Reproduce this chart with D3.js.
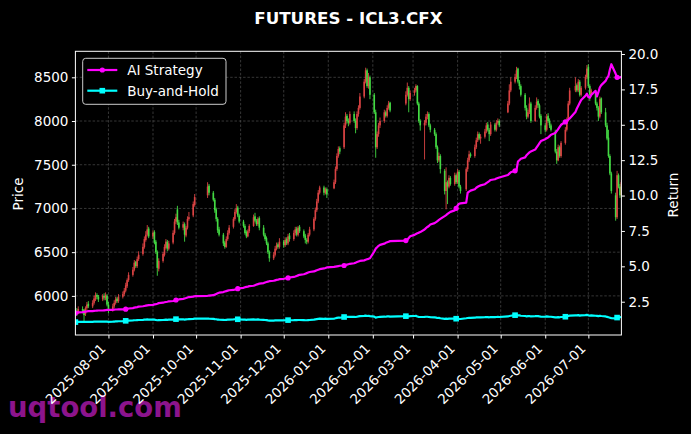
<!DOCTYPE html>
<html>
<head>
<meta charset="utf-8">
<script src="https://cdn.jsdelivr.net/npm/d3@7"></script>
<style>
  html, body { margin: 0; padding: 0; background: #000; }
  svg { display: block; }
  text { font-family: "DejaVu Sans", sans-serif; }
</style>
</head>
<body>
<div id="chart"></div>
<script>
'use strict';

// ---- data ----

var firstDay = "2025-07-09";
var lastDay  = "2026-07-24";

// exchange holidays that fall on weekdays
var holidays = [
  "2025-10-01", "2025-10-02", "2025-10-03", "2025-10-06", "2025-10-07", "2025-10-08",
  "2026-01-01", "2026-01-02",
  "2026-02-16", "2026-02-17", "2026-02-18", "2026-02-19", "2026-02-20", "2026-02-23",
  "2026-04-06",
  "2026-05-01", "2026-05-04", "2026-05-05",
  "2026-06-19"
];

var tickMonths = [
  "2025-08-01", "2025-09-01", "2025-10-01", "2025-11-01", "2025-12-01", "2026-01-01",
  "2026-02-01", "2026-03-01", "2026-04-01", "2026-05-01", "2026-06-01", "2026-07-01"
];
var priceTicks  = [6000, 6500, 7000, 7500, 8000, 8500];
var returnTicks = [2.5, 5.0, 7.5, 10.0, 12.5, 15.0, 17.5, 20.0];

// one line per trading week
var opens = [
  5780, 5830, 5800,
  5850, 5840, 5790, 5860, 5910,
  5880, 5920, 5960, 6010, 5990,
  5960, 6000, 5970, 6000, 5900,
  5840, 5880, 5920, 5970, 5940,
  5990, 6020, 6060, 6110, 6180,
  6240, 6300, 6390, 6340, 6420,
  6480, 6560, 6640, 6700, 6770,
  6680, 6730, 6620, 6500, 6310,
  6400, 6470, 6550, 6620, 6540,
  6610, 6720, 6850, 6990, 6840,
  6780, 6820, 6690, 6780, 6880,
  6920, 7040,
  7150, 7260,
  7180, 7100, 6990, 6880, 6760,
  6700, 6610, 6560, 6650, 6720,
  6790, 6880, 6960, 7010, 6920,
  6850, 6800, 6730, 6680, 6740,
  6800, 6910, 6860, 6820, 6890,
  6780, 6700, 6660, 6600, 6500,
  6430, 6470, 6540, 6590, 6560,
  6620, 6580, 6650, 6600, 6690,
  6650, 6720, 6770, 6700, 6790,
  6740, 6690, 6640, 6620, 6700,
  6760, 6880, 6980, 7080, 7180,
  7240, 7180, 7220,
  7230, 7300, 7450, 7600, 7690,
  7700, 7950, 8060, 8000, 7980,
  8080, 8000, 7920, 8080, 8150,
  8280, 8450, 8580, 8400, 8500,
  8300, 8100, 7700, 7850, 7950,
  8000, 8100, 8060, 8150, 8210,
  8200, 8300, 8380, 8250,
  8320, 8350, 8400, 8200, 8000,
  7950, 7980, 8050, 8080, 7950,
  7900, 7850, 7700, 7550, 7600,
  7430, 7200, 7300, 7250, 7350,
  7280, 7380, 7300, 7420, 7250,
  7220, 7450, 7550, 7620,
  7600, 7700, 7780, 7850, 7800,
  7820, 7880, 7960, 7900, 7850,
  7960, 7900, 7980, 8000,
  8100, 8200, 8350,
  8450, 8500, 8600, 8450, 8400,
  8300, 8150, 8050, 8100, 8200,
  8000, 8150, 8230, 8180, 8060,
  7950, 7900, 8060, 8000, 7950,
  7880, 7650, 7550, 7700, 7600,
  7750, 7900, 8000, 8200,
  8350, 8410, 8350, 8450, 8300,
  8380, 8500, 8620, 8400, 8300,
  8340, 8200, 8150, 8050, 8260,
  8100, 7950, 7810, 7600, 7400,
  7150, 6900, 7380, 7250, 7150
];

var highs = [
  5850, 5860, 5880,
  5880, 5850, 5880, 5930, 5940,
  5950, 6000, 6040, 6030, 6010,
  6020, 6030, 6040, 6020, 5930,
  5910, 5950, 5990, 5990, 6020,
  6050, 6090, 6150, 6200, 6270,
  6330, 6410, 6400, 6450, 6510,
  6600, 6680, 6740, 6810, 6790,
  6750, 6750, 6640, 6520, 6430,
  6500, 6590, 6650, 6640, 6630,
  6750, 6880, 6940, 7030, 6870,
  6850, 6840, 6800, 6910, 6960,
  7080, 7165,
  7300, 7280,
  7200, 7120, 7010, 6900, 6790,
  6720, 6630, 6680, 6750, 6810,
  6900, 6990, 7050, 7030, 6940,
  6870, 6820, 6750, 6760, 6820,
  6930, 6950, 6880, 6900, 6910,
  6810, 6720, 6680, 6620, 6520,
  6500, 6570, 6610, 6610, 6660,
  6640, 6670, 6670, 6710, 6720,
  6750, 6790, 6790, 6800, 6810,
  6760, 6710, 6660, 6720, 6790,
  6900, 7010, 7110, 7210, 7260,
  7260, 7240, 7240,
  7330, 7480, 7630, 7710, 7710,
  7980, 8100, 8080, 8030, 8110,
  8110, 8030, 8110, 8180, 8320,
  8480, 8610, 8600, 8550, 8520,
  8320, 8130, 7880, 7980, 8040,
  8130, 8120, 8180, 8230, 8220,
  8340, 8440, 8400, 8350,
  8380, 8420, 8410, 8220, 8020,
  8010, 8080, 8110, 8100, 7970,
  7920, 7870, 7720, 7640, 7620,
  7450, 7470, 7320, 7380, 7370,
  7410, 7400, 7450, 7440, 7270,
  7470, 7580, 7660, 7640,
  7730, 7810, 7880, 7870, 7850,
  7910, 7980, 7990, 7920, 7990,
  7980, 8010, 8030, 8020,
  8230, 8420, 8500,
  8540, 8620, 8610, 8470, 8420,
  8320, 8180, 8130, 8270, 8220,
  8180, 8270, 8250, 8200, 8080,
  7980, 8080, 8090, 8030, 7970,
  7900, 7680, 7730, 7720, 7770,
  7930, 8040, 8230, 8380,
  8500, 8430, 8480, 8470, 8400,
  8530, 8640, 8650, 8420, 8370,
  8340, 8220, 8170, 8280, 8270,
  8150, 7980, 7900, 7620, 7420,
  7180, 7430, 7400, 7280, 7330
];

var lows = [
  5720, 5770, 5790,
  5800, 5700, 5770, 5840, 5860,
  5860, 5900, 5940, 5960, 5930,
  5940, 5950, 5950, 5880, 5800,
  5820, 5860, 5900, 5920, 5920,
  5970, 6000, 6040, 6090, 6160,
  6220, 6280, 6320, 6320, 6400,
  6460, 6540, 6620, 6680, 6660,
  6650, 6590, 6480, 6230, 6280,
  6380, 6450, 6530, 6510, 6520,
  6590, 6700, 6820, 6810, 6760,
  6750, 6620, 6670, 6760, 6860,
  6900, 7020,
  7120, 7150,
  7080, 6950, 6850, 6720, 6680,
  6570, 6540, 6550, 6630, 6700,
  6770, 6860, 6940, 6900, 6830,
  6780, 6700, 6660, 6670, 6720,
  6790, 6840, 6800, 6800, 6750,
  6680, 6630, 6580, 6480, 6390,
  6410, 6450, 6520, 6540, 6540,
  6550, 6560, 6580, 6580, 6620,
  6630, 6690, 6680, 6680, 6720,
  6660, 6600, 6590, 6600, 6680,
  6740, 6860, 6960, 7060, 7160,
  7150, 7160, 7120,
  7220, 7280, 7430, 7580, 7620,
  7680, 7920, 7970, 7940, 7960,
  7980, 7860, 7900, 8050, 8130,
  8260, 8430, 8380, 8370, 8250,
  8080, 7580, 7680, 7820, 7920,
  7980, 8040, 8040, 8130, 8100,
  8180, 8280, 8100, 8230,
  8290, 8330, 8180, 7980, 7890,
  7560, 7950, 8020, 7930, 7870,
  7830, 7680, 7520, 7530, 7400,
  7160, 6990, 7050, 7230, 7260,
  7260, 7280, 7280, 7230, 7170,
  7200, 7420, 7530, 7580,
  7580, 7680, 7760, 7780, 7740,
  7800, 7860, 7880, 7770, 7830,
  7880, 7880, 7960, 7930,
  8090, 8180, 8330,
  8430, 8480, 8430, 8360, 8280,
  8120, 8020, 8030, 8080, 7980,
  7990, 8130, 8150, 8030, 7850,
  7870, 7880, 7980, 7920, 7880,
  7630, 7510, 7540, 7580, 7580,
  7730, 7880, 7990, 8180,
  8330, 8330, 8330, 8280, 8280,
  8360, 8480, 8380, 8230, 8280,
  8180, 8120, 8000, 8030, 8080,
  7930, 7780, 7580, 7380, 7170,
  6860, 6880, 7230, 7120, 7130
];

var closes = [
  5820, 5790, 5850,
  5830, 5780, 5860, 5900, 5880,
  5920, 5970, 6010, 5990, 5960,
  6000, 5980, 6010, 5900, 5830,
  5880, 5920, 5960, 5940, 5990,
  6020, 6060, 6120, 6180, 6240,
  6300, 6380, 6340, 6420, 6470,
  6560, 6650, 6700, 6760, 6680,
  6720, 6610, 6500, 6320, 6400,
  6480, 6560, 6620, 6540, 6600,
  6720, 6850, 6900, 6840, 6780,
  6820, 6700, 6780, 6880, 6900,
  7050, 7130,
  7250, 7180,
  7100, 6980, 6880, 6750, 6700,
  6600, 6560, 6650, 6720, 6780,
  6880, 6960, 7000, 6920, 6850,
  6800, 6720, 6680, 6740, 6800,
  6900, 6860, 6820, 6880, 6780,
  6700, 6650, 6600, 6500, 6430,
  6470, 6540, 6580, 6560, 6620,
  6580, 6640, 6600, 6680, 6650,
  6720, 6760, 6700, 6780, 6740,
  6680, 6640, 6620, 6700, 6760,
  6880, 6980, 7080, 7180, 7240,
  7180, 7220, 7160,
  7300, 7450, 7600, 7680, 7650,
  7950, 8050, 8000, 7980, 8080,
  8000, 7920, 8080, 8150, 8280,
  8450, 8580, 8400, 8500, 8300,
  8100, 7700, 7850, 7950, 8000,
  8100, 8060, 8150, 8200, 8120,
  8300, 8380, 8250, 8320,
  8350, 8400, 8200, 8000, 7950,
  7980, 8050, 8080, 7950, 7900,
  7850, 7700, 7550, 7600, 7450,
  7200, 7300, 7250, 7350, 7280,
  7380, 7300, 7420, 7250, 7200,
  7450, 7550, 7620, 7600,
  7700, 7780, 7850, 7800, 7820,
  7880, 7950, 7900, 7850, 7960,
  7900, 7980, 8000, 7950,
  8200, 8350, 8450,
  8500, 8580, 8450, 8400, 8300,
  8150, 8050, 8100, 8200, 8000,
  8150, 8220, 8180, 8050, 7950,
  7900, 8050, 8000, 7950, 7900,
  7650, 7550, 7700, 7600, 7750,
  7900, 8000, 8200, 8350,
  8400, 8350, 8450, 8300, 8380,
  8500, 8600, 8400, 8300, 8350,
  8200, 8150, 8050, 8250, 8100,
  7950, 7800, 7600, 7400, 7200,
  6900, 7380, 7250, 7150, 7300
];

var aiReturns = [
  1.70, 1.72, 1.75,
  1.76, 1.78, 1.80, 1.82, 1.83,
  1.84, 1.85, 1.86, 1.87, 1.88,
  1.88, 1.89, 1.90, 1.92, 1.93,
  1.93, 1.94, 1.95, 1.95, 1.96,
  1.96, 1.97, 1.97, 1.99, 2.02,
  2.05, 2.08, 2.10, 2.12, 2.15,
  2.18, 2.20, 2.22, 2.24, 2.26,
  2.28, 2.31, 2.33, 2.36, 2.40,
  2.43, 2.46, 2.48, 2.50, 2.53,
  2.55, 2.58, 2.62, 2.64, 2.66,
  2.70, 2.73, 2.76, 2.80, 2.83,
  2.86, 2.89,
  2.92, 2.93,
  2.96, 3.00, 3.05, 3.10, 3.14,
  3.18, 3.22, 3.25, 3.28, 3.31,
  3.33, 3.36, 3.38, 3.42, 3.45,
  3.48, 3.52, 3.55, 3.57, 3.60,
  3.63, 3.67, 3.71, 3.74, 3.78,
  3.82, 3.86, 3.89, 3.92, 3.95,
  3.98, 4.01, 4.04, 4.06, 4.09,
  4.12, 4.14, 4.16, 4.18, 4.21,
  4.25, 4.28, 4.32, 4.36, 4.40,
  4.44, 4.48, 4.52, 4.56, 4.60,
  4.64, 4.68, 4.72, 4.76, 4.80,
  4.85, 4.88, 4.92,
  4.96, 4.98, 5.00, 5.02, 5.04,
  5.06, 5.09, 5.12, 5.15, 5.18,
  5.22, 5.26, 5.30, 5.34, 5.38,
  5.42, 5.46, 5.50, 5.53, 5.57,
  6.05, 6.25, 6.35, 6.45, 6.52,
  6.60, 6.66, 6.70, 6.74, 6.78,
  6.82, 6.88, 7.00, 7.12,
  7.22, 7.28, 7.33, 7.38, 7.42,
  7.60, 7.70, 7.78, 7.85, 7.95,
  8.05, 8.12, 8.20, 8.28, 8.35,
  8.55, 8.62, 8.70, 8.78, 8.85,
  8.95, 9.10, 9.30, 9.42, 9.45,
  9.50, 10.20, 10.28, 10.35,
  10.45, 10.55, 10.62, 10.68, 10.72,
  10.80, 10.88, 10.95, 11.02, 11.10,
  11.15, 11.20, 11.24, 11.28,
  11.45, 11.55, 11.65,
  11.75, 11.80, 12.40, 12.50, 12.60,
  12.70, 12.85, 12.95, 13.05, 13.12,
  13.25, 13.40, 13.55, 13.70, 13.85,
  13.98, 14.05, 14.10, 14.20, 14.30,
  14.42, 14.55, 14.70, 14.85, 15.00,
  15.20, 15.28, 15.35, 15.45,
  15.90, 16.15, 16.35, 16.55, 16.75,
  17.05, 17.20, 16.95, 16.92, 17.10,
  17.40, 17.00, 17.30, 17.65, 17.80,
  18.10, 18.30, 18.45, 18.90, 19.28,
  18.60, 18.35, 18.30, 18.35, 18.38
];

var bhReturns = [
  1.06, 1.06, 1.07,
  1.07, 1.07, 1.07, 1.08, 1.08,
  1.08, 1.09, 1.09, 1.09, 1.09,
  1.09, 1.09, 1.10, 1.09, 1.08,
  1.09, 1.10, 1.11, 1.11, 1.12,
  1.13, 1.14, 1.15, 1.16, 1.17,
  1.18, 1.19, 1.19, 1.20, 1.21,
  1.22, 1.23, 1.24, 1.25, 1.24,
  1.24, 1.23, 1.21, 1.19, 1.20,
  1.21, 1.22, 1.23, 1.22, 1.23,
  1.24, 1.26, 1.27, 1.26, 1.25,
  1.26, 1.24, 1.25, 1.26, 1.27,
  1.29, 1.30,
  1.31, 1.30,
  1.29, 1.27, 1.26, 1.24, 1.23,
  1.22, 1.21, 1.22, 1.23, 1.24,
  1.25, 1.26, 1.27, 1.26, 1.25,
  1.24, 1.23, 1.22, 1.23, 1.24,
  1.25, 1.24, 1.24, 1.25, 1.23,
  1.22, 1.21, 1.20, 1.18, 1.17,
  1.17, 1.18, 1.19, 1.18, 1.19,
  1.18, 1.19, 1.19, 1.20, 1.19,
  1.20, 1.21, 1.20, 1.21, 1.21,
  1.20, 1.19, 1.19, 1.20, 1.21,
  1.23, 1.25, 1.27, 1.29, 1.30,
  1.29, 1.30, 1.29,
  1.31, 1.33, 1.36, 1.37, 1.37,
  1.42, 1.44, 1.43, 1.43, 1.44,
  1.43, 1.42, 1.44, 1.46, 1.48,
  1.50, 1.52, 1.49, 1.51, 1.48,
  1.45, 1.38, 1.40, 1.42, 1.43,
  1.45, 1.44, 1.46, 1.47, 1.45,
  1.48, 1.49, 1.47, 1.48,
  1.49, 1.50, 1.46, 1.43, 1.42,
  1.43, 1.44, 1.44, 1.42, 1.41,
  1.40, 1.38, 1.35, 1.36, 1.33,
  1.29, 1.30, 1.29, 1.31, 1.30,
  1.31, 1.30, 1.31, 1.29, 1.28,
  1.33, 1.35, 1.36, 1.36,
  1.37, 1.39, 1.40, 1.39, 1.40,
  1.41, 1.42, 1.41, 1.40, 1.42,
  1.41, 1.42, 1.43, 1.42,
  1.46, 1.49, 1.51,
  1.55, 1.56, 1.54, 1.53, 1.51,
  1.49, 1.47, 1.48, 1.49, 1.46,
  1.48, 1.49, 1.48, 1.46, 1.45,
  1.44, 1.46, 1.45, 1.44, 1.44,
  1.40, 1.39, 1.41, 1.40, 1.42,
  1.44, 1.46, 1.49, 1.52,
  1.54, 1.53, 1.55, 1.52, 1.54,
  1.55, 1.57, 1.54, 1.52, 1.53,
  1.51, 1.50, 1.48, 1.51, 1.49,
  1.46, 1.43, 1.40, 1.37, 1.34,
  1.32, 1.38, 1.40, 1.40, 1.42
];

// ---- chart ----

var chart = {};

chart.WIDTH  = 691;
chart.HEIGHT = 434;
chart.plot   = { left: 75.4, right: 621.4, top: 51.3, bottom: 335 };

chart.colors = {
  up:    "#ff4f4f",   // red candle, close above open
  down:  "#4fff4f",   // green candle
  ai:    "#ff00ff",
  bh:    "#00ffff",
  grid:  "#5a5a5a",
  text:  "#ffffff",
  mark:  "#8c148c"
};

chart.parseDay = d3.timeParse("%Y-%m-%d");
chart.fmtDay   = d3.timeFormat("%Y-%m-%d");

// weekdays between first and last day that are not holidays
chart.tradingDays = function() {
  var start = chart.parseDay(firstDay);
  var stop  = d3.timeDay.offset(chart.parseDay(lastDay), 1);
  return d3.timeDay.range(start, stop).filter(function(d) {
    var wd = d.getDay();
    return wd !== 0 && wd !== 6 && holidays.indexOf(chart.fmtDay(d)) < 0;
  });
};

chart.padded = function(lo, hi) {
  var pad = (hi - lo) * 0.05;
  return [lo - pad, hi + pad];
};

chart.styleAxis = function(g) {
  g.select(".domain").remove();
  g.selectAll(".tick line").attr("stroke", chart.colors.text).attr("stroke-width", 1);
  g.selectAll(".tick text")
    .attr("fill", chart.colors.text)
    .style("font-family", "'DejaVu Sans', sans-serif")
    .style("font-size", "13.5px");
};

chart.draw = function() {
  var P = chart.plot;
  var days = chart.tradingDays();
  if (days.length !== closes.length) {
    console.warn("trading days", days.length, "values", closes.length);
  }

  var svg = d3.select("#chart").append("svg")
    .attr("width", chart.WIDTH)
    .attr("height", chart.HEIGHT)
    .style("background", "#000");

  svg.append("defs").append("clipPath").attr("id", "plot-clip")
    .append("rect")
    .attr("x", P.left).attr("y", P.top)
    .attr("width", P.right - P.left).attr("height", P.bottom - P.top);

  var x = d3.scaleTime()
    .domain([chart.parseDay(firstDay), chart.parseDay(lastDay)])
    .range([P.left, P.right]);

  var yPrice = d3.scaleLinear()
    .domain(chart.padded(d3.min(lows), d3.max(highs)))
    .range([P.bottom, P.top]);

  var allReturns = aiReturns.concat(bhReturns);
  var yRet = d3.scaleLinear()
    .domain(chart.padded(d3.min(allReturns), d3.max(allReturns)))
    .range([P.bottom, P.top]);

  // watermark sits under everything else
  svg.append("text")
    .attr("x", 8)
    .attr("y", 417)
    .attr("fill", chart.colors.mark)
    .style("font-family", "'DejaVu Sans', sans-serif")
    .style("font-weight", "bold")
    .style("font-size", "27.5px")
    .text("uqtool.com");

  // dashed grid (date ticks and price ticks only)
  var grid = svg.append("g");
  grid.selectAll("line.gx")
    .data(tickMonths.map(chart.parseDay))
    .enter().append("line")
    .attr("x1", function(d) { return x(d); })
    .attr("x2", function(d) { return x(d); })
    .attr("y1", P.top).attr("y2", P.bottom);
  grid.selectAll("line.gy")
    .data(priceTicks)
    .enter().append("line")
    .attr("x1", P.left).attr("x2", P.right)
    .attr("y1", function(d) { return yPrice(d); })
    .attr("y2", function(d) { return yPrice(d); });
  grid.selectAll("line")
    .attr("stroke", chart.colors.grid)
    .attr("stroke-width", 0.6)
    .attr("stroke-dasharray", "2.5,1.8");

  // candles
  var candles = days.map(function(d, i) {
    return { date: d, o: opens[i], h: highs[i], l: lows[i], c: closes[i] };
  });

  var cg = svg.append("g").attr("clip-path", "url(#plot-clip)");
  var candle = cg.selectAll("g.candle")
    .data(candles)
    .enter().append("g")
    .attr("opacity", 0.85);

  candle.append("line")
    .attr("x1", function(d) { return x(d.date); })
    .attr("x2", function(d) { return x(d.date); })
    .attr("y1", function(d) { return yPrice(d.h); })
    .attr("y2", function(d) { return yPrice(d.l); })
    .attr("stroke", function(d) { return d.c >= d.o ? chart.colors.up : chart.colors.down; })
    .attr("stroke-width", 0.9);

  candle.append("rect")
    .attr("x", function(d) { return x(d.date) - 0.8; })
    .attr("width", 1.6)
    .attr("y", function(d) { return yPrice(Math.max(d.o, d.c)); })
    .attr("height", function(d) {
      return Math.max(0.8, Math.abs(yPrice(d.o) - yPrice(d.c)));
    })
    .attr("fill", function(d) { return d.c >= d.o ? chart.colors.up : chart.colors.down; });

  // return lines with sparse markers
  var line = d3.line()
    .x(function(d) { return x(d.date); })
    .y(function(d) { return yRet(d.v); });

  var series = [
    { values: aiReturns, color: chart.colors.ai, marker: "circle" },
    { values: bhReturns, color: chart.colors.bh, marker: "square" }
  ];

  series.forEach(function(s) {
    var pts = days.map(function(d, i) { return { date: d, v: s.values[i] }; });
    cg.append("path")
      .datum(pts)
      .attr("d", line)
      .attr("fill", "none")
      .attr("stroke", s.color)
      .attr("stroke-width", 2.2)
      .attr("stroke-linejoin", "round");

    var marks = pts.filter(function(d, i) { return i % 25 === 0; });
    if (s.marker === "circle") {
      cg.selectAll(null).data(marks).enter().append("circle")
        .attr("cx", function(d) { return x(d.date); })
        .attr("cy", function(d) { return yRet(d.v); })
        .attr("r", 2.6)
        .attr("fill", s.color);
    } else {
      cg.selectAll(null).data(marks).enter().append("rect")
        .attr("x", function(d) { return x(d.date) - 2.8; })
        .attr("y", function(d) { return yRet(d.v) - 2.8; })
        .attr("width", 5.6).attr("height", 5.6)
        .attr("fill", s.color);
    }
  });

  // frame
  svg.append("rect")
    .attr("x", P.left).attr("y", P.top)
    .attr("width", P.right - P.left).attr("height", P.bottom - P.top)
    .attr("fill", "none")
    .attr("stroke", chart.colors.text)
    .attr("stroke-width", 1);

  // axes
  svg.append("g")
    .attr("transform", "translate(" + P.left + ",0)")
    .call(d3.axisLeft(yPrice).tickValues(priceTicks).tickSize(3.5).tickPadding(3.5)
      .tickFormat(d3.format("d")))
    .call(chart.styleAxis);

  svg.append("g")
    .attr("transform", "translate(" + P.right + ",0)")
    .call(d3.axisRight(yRet).tickValues(returnTicks).tickSize(3.5).tickPadding(3.5)
      .tickFormat(d3.format(".1f")))
    .call(chart.styleAxis);

  var xAxis = svg.append("g")
    .attr("transform", "translate(0," + P.bottom + ")")
    .call(d3.axisBottom(x).tickValues(tickMonths.map(chart.parseDay)).tickSize(3.5)
      .tickFormat(chart.fmtDay))
    .call(chart.styleAxis);

  xAxis.selectAll(".tick text")
    .attr("x", 0).attr("y", 0).attr("dy", null)
    .attr("text-anchor", "end")
    .attr("transform", "translate(-2.3,14.5) rotate(-45)");

  // axis titles
  svg.append("text")
    .attr("transform", "translate(23.3,194) rotate(-90)")
    .attr("text-anchor", "middle")
    .attr("fill", chart.colors.text)
    .style("font-size", "13.5px")
    .text("Price");

  svg.append("text")
    .attr("transform", "translate(678.3,195) rotate(-90)")
    .attr("text-anchor", "middle")
    .attr("fill", chart.colors.text)
    .style("font-size", "13.5px")
    .text("Return");

  // title
  svg.append("text")
    .attr("x", (P.left + P.right) / 2)
    .attr("y", 24)
    .attr("text-anchor", "middle")
    .attr("fill", chart.colors.text)
    .style("font-weight", "bold")
    .style("font-size", "16.7px")
    .text("FUTURES - ICL3.CFX");

  // legend
  var lg = svg.append("g");
  lg.append("rect")
    .attr("x", 82.7).attr("y", 58.3)
    .attr("width", 143.3).attr("height", 46)
    .attr("rx", 3).attr("ry", 3)
    .attr("fill", "#000")
    .attr("stroke", "#cccccc")
    .attr("stroke-width", 1);

  var legendItems = [
    { label: "AI Strategy",  color: chart.colors.ai, marker: "circle", y: 70 },
    { label: "Buy-and-Hold", color: chart.colors.bh, marker: "square", y: 90.7 }
  ];

  legendItems.forEach(function(it) {
    lg.append("line")
      .attr("x1", 87.3).attr("x2", 117.3)
      .attr("y1", it.y).attr("y2", it.y)
      .attr("stroke", it.color)
      .attr("stroke-width", 2.2);
    if (it.marker === "circle") {
      lg.append("circle").attr("cx", 102.3).attr("cy", it.y).attr("r", 2.6).attr("fill", it.color);
    } else {
      lg.append("rect").attr("x", 99.5).attr("y", it.y - 2.8)
        .attr("width", 5.6).attr("height", 5.6).attr("fill", it.color);
    }
    lg.append("text")
      .attr("x", 127.3).attr("y", it.y)
      .attr("dy", "0.36em")
      .attr("fill", chart.colors.text)
      .style("font-size", "13.5px")
      .text(it.label);
  });
};

chart.draw();
</script>
</body>
</html>
